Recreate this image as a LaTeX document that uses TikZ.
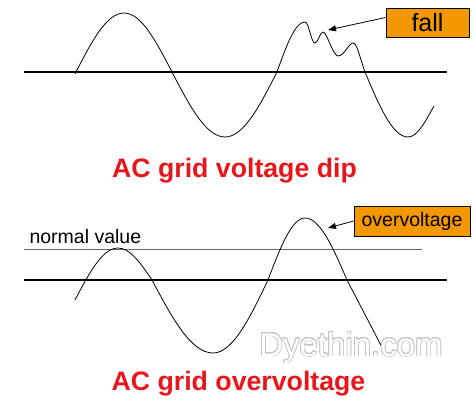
\documentclass[tikz,border=0pt]{standalone}
\usepackage{fontspec}
\setmainfont{Liberation Sans}
\usepackage{contour}
\contourlength{0.7pt}
\contournumber{24}
\usetikzlibrary{arrows.meta}
\definecolor{naranja}{HTML}{F39800}
\definecolor{rojo}{HTML}{E8161B}
\definecolor{marca}{HTML}{C4C4C4}
\definecolor{normal}{HTML}{666666}

\begin{document}
\begin{tikzpicture}[x=1pt, y=-1pt,
		eje/.style={line width=1.8pt},
		onda/.style={line width=0.8pt, line join=round},
		caja/.style={draw, line width=0.8pt, fill=naranja, inner sep=0pt, anchor=center},
		titulo/.style={text=rojo, font=\fontsize{26.7}{30}\selectfont\bfseries, anchor=base},
		flecha/.style={-{Triangle[length=8pt, width=6pt]}, line width=0.8pt}]
	\useasboundingbox (0,0) rectangle (475,402);
	% arriba: caida de tension
	\draw[eje] (24,72) -- (447,72);
	\draw[onda] (75,74) sin (124,13) cos (172,72) sin (225,137) cos (277,72) sin (305,22)
		.. controls (309,22) and (311,43) .. (315,43)
		.. controls (318,43) and (320,32) .. (323,32)
		.. controls (327,32) and (333,56) .. (338,56)
		.. controls (344,56) and (349,43) .. (353,43)
		.. controls (357,43) and (359,55) .. (365,72)
		sin (408,137) .. controls (418,137) and (426,120) .. (434,106);
	\node[caja, minimum width=83pt, minimum height=29pt, font=\fontsize{25}{28}\selectfont]
		(caida) at (427.5,22.5) {fall};
	\coordinate (puntacaida) at (328,30);
	\draw[flecha] ([yshift=5pt]caida.west) -- (puntacaida);
	\node[titulo] (titulocaida) at (234.5,177) {AC grid voltage dip};
	% abajo: sobretension
	\node[anchor=base west, font=\fontsize{19.5}{22}\selectfont] (valor) at (26,243) {normal value};
	\draw[normal, line width=0.6pt] (24,249) -- (422,249);
	\draw[eje] (24,280) -- (447,280);
	\draw[onda] (75,300) sin (118,248) cos (152,280) sin (213,353) cos (268,280) sin (305,218)
		cos (347,280) -- (385,353);
	\node[caja, minimum width=116pt, minimum height=30pt, font=\fontsize{19.5}{22}\selectfont]
		(sobre) at (412,221) {overvoltage};
	\coordinate (puntasobre) at (328,228);
	\draw[flecha] (sobre.west) -- (puntasobre);
	\node[font=\fontsize{33}{36}\selectfont, anchor=base] (agua) at (351,356)
		{\contour{marca}{\textcolor{white}{Dyethin.com}}};
	\node[titulo] (titulosobre) at (238.5,390) {AC grid overvoltage};
\end{tikzpicture}
\end{document}
